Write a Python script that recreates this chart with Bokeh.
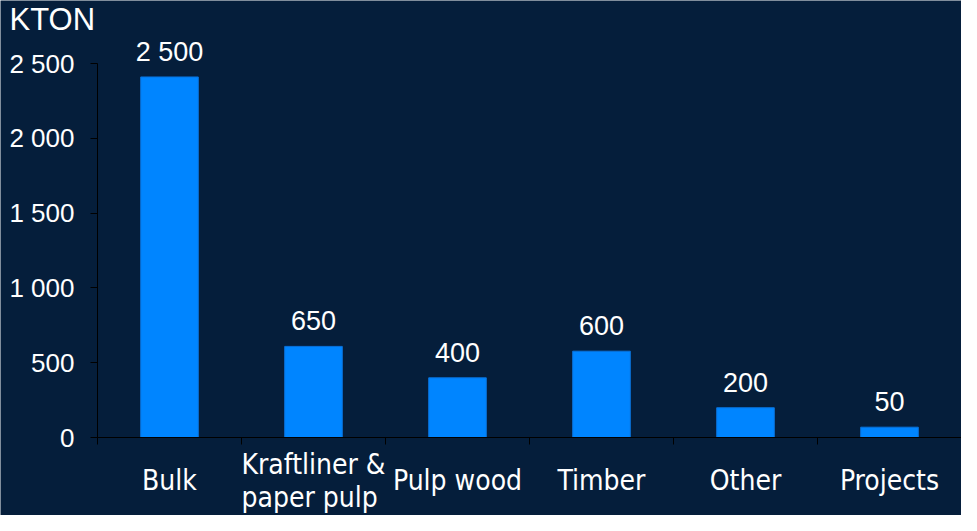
from bokeh.plotting import figure
from bokeh.models import FixedTicker, ColumnDataSource, LabelSet, Label, Range1d
from bokeh.core.properties import value
from bokeh.embed import file_html
from bokeh.resources import INLINE

categories = ["Bulk", "Kraftliner &\npaper pulp", "Pulp wood", "Timber", "Other", "Projects"]
values = [2410, 609, 399, 577, 199, 69]
value_labels = ["2 500", "650", "400", "600", "200", "50"]
y_ticks = [0, 500, 1000, 1500, 2000, 2500]
y_tick_labels = ["0", "500", "1 000", "1 500", "2 000", "2 500"]
unit_label = "KTON"

BG = "#051E3B"
BAR = "#0085FF"
TEXT = "white"

# layout constants (pixels)
W, H = 961, 515
AXIS_X = 97          # screen x of the value axis
AXIS_Y = 437         # screen y of the category axis (value 0)
TOP_Y = 63           # screen y of the highest tick
CAT_W = 144          # pixels per category

n = len(categories)
ymax = max(y_ticks)
px_per_unit = (AXIS_Y - TOP_Y) / ymax
centers = [i + 0.5 for i in range(n)]
boundaries = list(range(n + 1))

p = figure(width=W, height=H, output_backend="svg", toolbar_location=None,
           x_range=Range1d(-AXIS_X / CAT_W, (W - AXIS_X) / CAT_W),
           y_range=Range1d(-(H - AXIS_Y) / px_per_unit, ymax + TOP_Y / px_per_unit),
           min_border=0)
p.background_fill_color = BG
p.border_fill_color = BG
p.outline_line_color = None
p.xgrid.visible = False
p.ygrid.visible = False

p.vbar(x=centers, top=values, bottom=0, width=0.4, fill_color=BAR, line_color="#0A72DA", line_width=1)

src = ColumnDataSource(dict(x=centers, y=values, t=value_labels, c=categories))
p.add_layout(LabelSet(x="x", y="y", text="t", source=src, y_offset=16,
                      text_align="center", text_baseline="alphabetic",
                      text_font=value("Liberation Sans"), text_font_size=value("27px"),
                      text_color=TEXT))
p.add_layout(LabelSet(x="x", y=0, text="c", source=src, y_offset=-43,
                      text_align="center", text_baseline="middle",
                      text_font=value("DejaVu Sans Condensed"), text_font_size=value("28px"),
                      text_line_height=1.0, text_color=TEXT))

p.add_layout(Label(x=9, y=H - 19, x_units="screen", y_units="screen", text=unit_label,
                   text_font="Liberation Sans", text_font_size="31px", text_color=TEXT,
                   text_baseline="alphabetic", text_align="left"))

xa = p.xaxis[0]
xa.fixed_location = 0
xa.bounds = (0, n)
xa.ticker = FixedTicker(ticks=[], minor_ticks=boundaries)
xa.major_tick_out = 0
xa.major_tick_in = 0
xa.minor_tick_out = 7
xa.minor_tick_in = 0
xa.minor_tick_line_color = "black"
xa.axis_line_color = "black"

ya = p.yaxis[0]
ya.fixed_location = 0
ya.bounds = (0, ymax)
ya.ticker = FixedTicker(ticks=y_ticks, minor_ticks=[])
ya.major_label_overrides = {t: lab for t, lab in zip(y_ticks, y_tick_labels)}
ya.major_tick_out = 7
ya.major_tick_in = 0
ya.major_tick_line_color = "black"
ya.minor_tick_out = 0
ya.minor_tick_in = 0
ya.axis_line_color = "black"
ya.major_label_standoff = 16
ya.major_label_text_color = TEXT
ya.major_label_text_font = "Liberation Sans"
ya.major_label_text_font_size = "26px"

open("out.html", "w").write(file_html(p, INLINE))
